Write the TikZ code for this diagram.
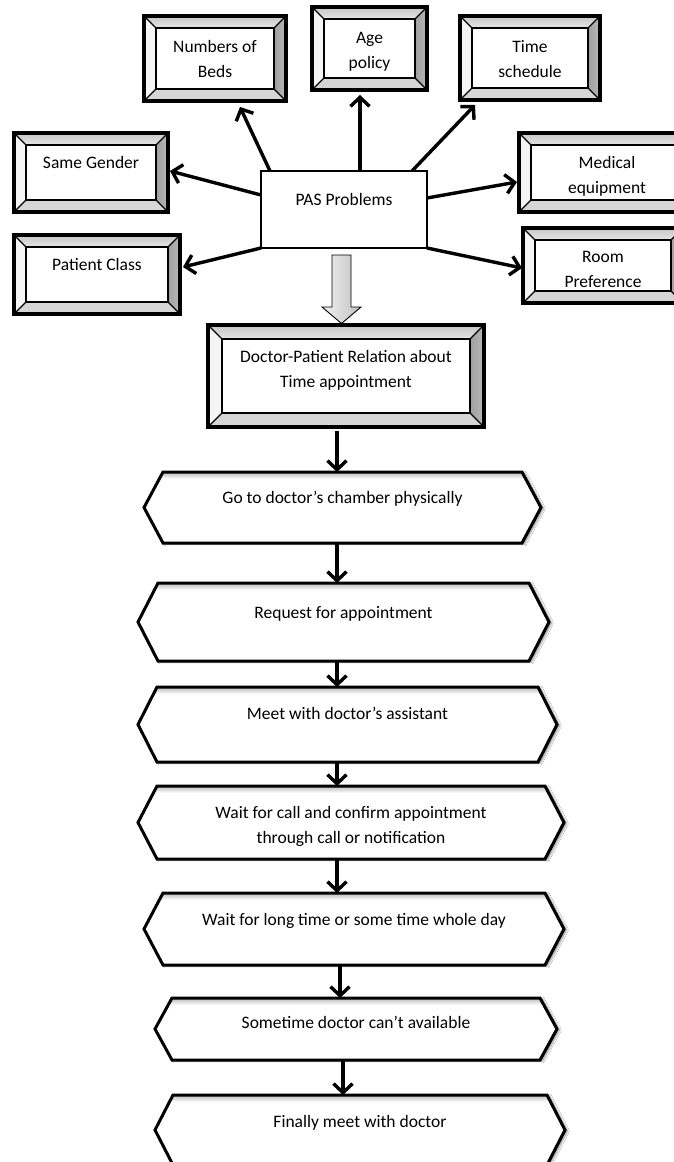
\documentclass[tikz,border=0pt]{standalone}
\usepackage{fontspec}
\setmainfont{Carlito}
\usetikzlibrary{arrows.meta,calc,shadows.blur,backgrounds}
\newcommand\bevframe[2]{%
  \fill[bvtop] (#1.north west) -- (#1.north east) -- ($(#1.north east)+(-#2,#2)$) -- ($(#1.north west)+(#2,#2)$) -- cycle;
  \fill[bvleft] (#1.north west) -- ($(#1.north west)+(#2,#2)$) -- ($(#1.south west)+(#2,-#2)$) -- (#1.south west) -- cycle;
  \fill[bvright] (#1.north east) -- (#1.south east) -- ($(#1.south east)+(-#2,-#2)$) -- ($(#1.north east)+(-#2,#2)$) -- cycle;
  \fill[bvbot] (#1.south west) -- (#1.south east) -- ($(#1.south east)+(-#2,-#2)$) -- ($(#1.south west)+(#2,-#2)$) -- cycle;
  \draw[line width=1.2pt] (#1.north west) -- ($(#1.north west)+(#2,#2)$) (#1.north east) -- ($(#1.north east)+(-#2,#2)$)
     (#1.south west) -- ($(#1.south west)+(#2,-#2)$) (#1.south east) -- ($(#1.south east)+(-#2,-#2)$);
  \draw[line width=2.2pt] ($(#1.north west)+(#2,#2)$) rectangle ($(#1.south east)+(-#2,-#2)$);
  \draw[line width=3.5pt] (#1.north west) rectangle (#1.south east);
}
\newcommand\hexdraw[2]{%
  \begin{scope}[on background layer]
    \fill[white, blur shadow={shadow xshift=2.5pt, shadow yshift=-1pt, shadow blur steps=6, shadow opacity=45}]
      (#1.west) -- ($(#1.north west)+(#2,0)$) -- ($(#1.north east)+(-#2,0)$) -- (#1.east) -- ($(#1.south east)+(-#2,0)$) -- ($(#1.south west)+(#2,0)$) -- cycle;
    \begin{scope}
      \clip (#1.west) -- ($(#1.north west)+(#2,0)$) -- ($(#1.north east)+(-#2,0)$) -- (#1.east) -- ($(#1.south east)+(-#2,0)$) -- ($(#1.south west)+(#2,0)$) -- cycle;
      \fill[top color=gray!55, bottom color=white] (#1.north west) rectangle ($(#1.north east)+(0,7)$);
    \end{scope}
  \end{scope}
  \draw[hexline] (#1.west) -- ($(#1.north west)+(#2,0)$) -- ($(#1.north east)+(-#2,0)$) -- (#1.east) -- ($(#1.south east)+(-#2,0)$) -- ($(#1.south west)+(#2,0)$) -- cycle;
}
\begin{document}
\begin{tikzpicture}[x=1pt,y=-1pt,
  txt/.style={font=\fontsize{17.5}{25}\selectfont, align=center, text=black},
  th/.style 2 args={text height=#1, text depth=#2},
  bvbox/.style 2 args={txt, fill=white, inner sep=0pt, outer sep=0pt, minimum width=#1, minimum height=#2},
  hexn/.style 2 args={txt, inner sep=0pt, outer sep=0pt, minimum width=#1, minimum height=#2},
  pasbox/.style={txt, draw, line width=1.6pt, fill=white, inner sep=0pt, outer sep=0pt, minimum width=166, minimum height=77},
  arr/.style={line width=3.4pt, -{Straight Barb[length=9pt,width=19pt]}},
  bvtop/.style={top color=gray!45, bottom color=gray!20},
  bvleft/.style={fill=gray!8},
  bvright/.style={left color=gray!75, right color=gray!55},
  bvbot/.style={fill=gray!32},
  hexline/.style={line width=3pt, line join=miter},
  bigarr/.style={draw, line width=0.9pt, left color=gray!10, right color=gray!50},
]
\useasboundingbox (0,0) rectangle (673,1162);
\begin{scope}[on background layer]
  \fill[white] (0,0) rectangle (673,1162);
\end{scope}

% top boxes
\node[bvbox={142}{85}, th={38pt}{1pt}] (beds) at (215,58.5) {Numbers of\\Beds};
\node[bvbox={115}{83}, th={39pt}{0pt}] (age) at (369.5,48.5) {Age\\policy};
\node[bvbox={140}{84}, th={38pt}{0pt}] (ts) at (530,58) {Time\\schedule};
\node[bvbox={154}{79}, th={13pt}{22pt}] (sg) at (91,172.5) {Same Gender};
\node[bvbox={166}{79}, th={13pt}{22pt}] (pc) at (97,274.5) {Patient Class};
\node[bvbox={176}{79}, th={41pt}{0pt}] (med) at (607,172.5) {Medical\\equipment};
\node[bvbox={160}{75}, th={43pt}{0pt}] (room) at (603,265.5) {Room\\Preference};
\node[bvbox={276}{102}, th={38pt}{16pt}] (doc) at (346,376) {Doctor-Patient Relation about\\Time appointment};
\bevframe{beds}{12}
\bevframe{age}{12}
\bevframe{ts}{12}
\bevframe{sg}{12}
\bevframe{pc}{12}
\bevframe{med}{12}
\bevframe{room}{12}
\bevframe{doc}{14}

\node[pasbox, th={13pt}{22pt}] (pas) at (344,209.5) {PAS Problems};

% arrows from PAS
\coordinate (xa) at (270,0);
\coordinate (xb) at (360,0);
\coordinate (xc) at (412,0);
\draw[arr] (pas.north -| xa) -- ($(beds.south)+(25,6)$);
\draw[arr] ($(pas.west)+(0,-14.5)$) -- ($(sg.east)+(2,-1.5)$);
\draw[arr] (pas.south west) -- ($(pc.east)+(3,-7.5)$);
\draw[arr] (pas.north -| xb) -- ($(age.south)+(-9.5,5)$);
\draw[arr] (pas.north -| xc) -- ($(ts.south)+(-55,5)$);
\draw[arr] ($(pas.east)+(0,-11.5)$) -- ($(med.west)+(-2,9.5)$);
\draw[arr] (pas.south east) -- ($(room.west)+(-1,2.5)$);

% big hollow arrow
\coordinate (ba) at (341.5,0);
\draw[bigarr] ($(pas.south -| ba)+(-9.5,7)$) -- ++(0,52) -- ++(-10,0) -- ($(doc.north -| ba)+(0,-1.5)$)
  -- ++(19.5,-16.5) -- ++(-10,0) -- ++(0,-52) -- cycle;

% hexagons
\node[hexn={397}{71}, th={13pt}{22pt}] (h1) at (342.5,507.5) {Go to doctor’s chamber physically};
\node[hexn={411}{78}, th={13pt}{21pt}] (h2) at (343.5,622) {Request for appointment};
\node[hexn={419}{75}, th={13pt}{24pt}] (h3) at (347.5,724.5) {Meet with doctor’s assistant};
\node[hexn={426}{73}, th={41pt}{0pt}] (h4) at (351,822.5) {Wait for call and confirm appointment\\through call or notification};
\node[hexn={420}{72}, th={13pt}{21pt}] (h5) at (354,929) {Wait for long time or some time whole day};
\node[hexn={402}{62}, th={13pt}{15pt}] (h6) at (356,1029) {Sometime doctor can’t available};
\node[hexn={410}{70}, th={13pt}{19pt}] (h7) at (360,1130) {Finally meet with doctor};
\hexdraw{h1}{19}
\hexdraw{h2}{20}
\hexdraw{h3}{19}
\hexdraw{h4}{19}
\hexdraw{h5}{19}
\hexdraw{h6}{17}
\hexdraw{h7}{18}

% flow arrows
\coordinate (k1) at (337,0);
\coordinate (k2) at (340,0);
\coordinate (k3) at (343,0);
\draw[arr, shorten <=4pt] (doc.south -| k1) -- (h1.north -| k1);
\draw[arr] (h1.south -| k1) -- (h2.north -| k1);
\draw[arr] (h2.south -| k1) -- (h3.north -| k1);
\draw[arr] (h3.south -| k1) -- (h4.north -| k1);
\draw[arr] (h4.south -| k1) -- (h5.north -| k1);
\draw[arr] (h5.south -| k2) -- (h6.north -| k2);
\draw[arr] (h6.south -| k3) -- (h7.north -| k3);
\end{tikzpicture}
\end{document}
